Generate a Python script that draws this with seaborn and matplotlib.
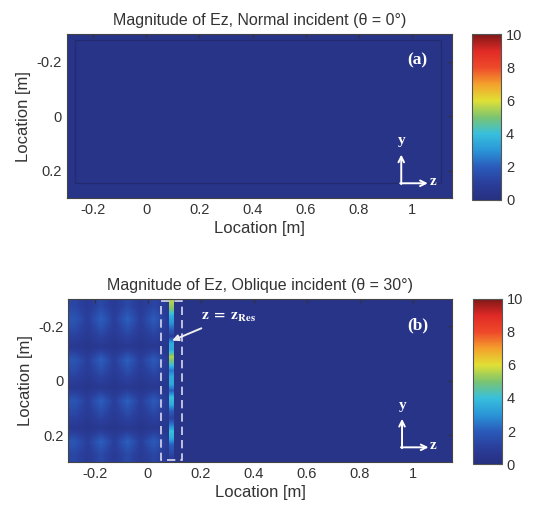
import numpy as np
import matplotlib
matplotlib.use("Agg")
import matplotlib.pyplot as plt
import seaborn as sns
from matplotlib.colors import LinearSegmentedColormap
from matplotlib.patches import Rectangle

sns.set_style("white")
plt.rcParams['font.family'] = ['Liberation Sans', 'DejaVu Sans']
plt.rcParams['mathtext.fontset'] = 'stix'

# domain [m]
z_range = [-0.3, 1.15]
y_range = [-0.3, 0.3]
z_ticks = [-0.2, 0, 0.2, 0.4, 0.6, 0.8, 1]
y_ticks = [-0.2, 0, 0.2]
cbar_ticks = [0, 2, 4, 6, 8, 10]
titles = ['Magnitude of Ez, Normal incident (θ = 0°)',
          'Magnitude of Ez, Oblique incident (θ = 30°)']
tags = ['(a)', '(b)']

# background |Ez| of each panel
background = [0.35, 0.35]

# (b) standing-wave pattern left of the resonator, 0.05 m cells
pattern_z = [-0.3, 0.1]
pattern = [
    [1.3, 0.8, 1.4, 0.8, 1.4, 0.8, 1.3, 0.7],
    [1.8, 1.0, 2.1, 1.0, 2.1, 1.0, 2.0, 0.8],
    [1.3, 0.8, 1.4, 0.8, 1.4, 0.8, 1.3, 0.7],
    [0.7, 0.5, 0.7, 0.5, 0.7, 0.5, 0.7, 0.5],
    [1.8, 1.0, 2.1, 1.0, 2.1, 1.0, 2.0, 0.8],
    [1.3, 0.8, 1.4, 0.8, 1.4, 0.8, 1.3, 0.7],
    [0.7, 0.5, 0.7, 0.5, 0.7, 0.5, 0.7, 0.5],
    [1.8, 1.0, 2.1, 1.0, 2.1, 1.0, 2.0, 0.8],
    [1.3, 0.8, 1.4, 0.8, 1.4, 0.8, 1.3, 0.7],
    [0.7, 0.5, 0.7, 0.5, 0.7, 0.5, 0.7, 0.5],
    [1.8, 1.0, 2.1, 1.0, 2.1, 1.0, 2.0, 0.8],
    [1.3, 0.8, 1.4, 0.8, 1.4, 0.8, 1.3, 0.7],
]

# (b) resonator strip at z = z_Res, every 0.025 m along y
strip_z = [0.082, 0.098]
strip = [5.5, 5.0, 3.5, 3.0, 2.0, 1.0, 3.5, 3.5, 5.5, 4.5, 2.5, 3.5,
         3.5, 2.0, 4.0, 3.5, 2.0, 1.2, 2.5, 4.0, 3.5, 2.0, 1.5, 1.0]
res_box = [0.05, 0.13]

# (a) absorbing-layer boundary (faint lines)
pml_z = [-0.27, 1.11]
pml_y = [-0.28, 0.245]

# jet-like colour scale as printed (slightly washed out), one colour per unit
scale_colors = ['#26307f', '#2a3e9b', '#2a5cbc', '#2a96d8', '#38c0dc', '#7cc470',
                '#e0e034', '#f4a02c', '#ee4a2a', '#e02a26', '#801818']
cmap = LinearSegmentedColormap.from_list('jet_print', scale_colors)
text_col = '#333333'

fig = plt.figure(figsize=(5.35, 5.09), dpi=100)
ax_pos = [[0.1247, 0.6104, 0.7196, 0.3222], [0.1277, 0.0918, 0.7178, 0.3202]]
cax_pos = [[0.8817, 0.6071, 0.0548, 0.3255], [0.8841, 0.0884, 0.0542, 0.3242]]

ext_full = [z_range[0], z_range[1], y_range[1], y_range[0]]

for k in range(2):
    ax = fig.add_axes(ax_pos[k])
    im = ax.imshow([[background[k]]], cmap=cmap, vmin=0, vmax=10,
                   extent=ext_full, aspect='auto', origin='upper')
    if k == 1:
        ax.imshow(np.array(pattern), cmap=cmap, vmin=0, vmax=10,
                  extent=[pattern_z[0], pattern_z[1], y_range[1], y_range[0]],
                  aspect='auto', origin='upper', interpolation='bilinear',
                  interpolation_stage='data')
        ax.imshow(np.array(strip).reshape(-1, 1), cmap=cmap, vmin=0, vmax=10,
                  extent=[strip_z[0], strip_z[1], y_range[1], y_range[0]],
                  aspect='auto', origin='upper', interpolation='bilinear',
                  interpolation_stage='data')
        ax.add_patch(Rectangle((res_box[0], -0.295), res_box[1] - res_box[0], 0.587,
                               fill=False, edgecolor='#d9d9ee', lw=1.2,
                               linestyle=(0, (5, 3))))
        ax.annotate(r'$\mathbf{z\ =\ z_{Res}}$', xy=(0.092, -0.148),
                    xytext=(0.2, -0.235), color='white', fontsize=11,
                    va='center', ha='left',
                    arrowprops=dict(arrowstyle='-|>', color='#eeeeee', lw=1.4,
                                    mutation_scale=9, shrinkA=2, shrinkB=0))
    else:
        ax.add_patch(Rectangle((pml_z[0], pml_y[0]), pml_z[1] - pml_z[0],
                               pml_y[1] - pml_y[0], fill=False,
                               edgecolor='#222a70', lw=0.8))

    ax.set_xlim(z_range)
    ax.set_ylim(y_range[1], y_range[0])
    ax.set_xticks(z_ticks)
    ax.set_xticklabels(['-0.2', '0', '0.2', '0.4', '0.6', '0.8', '1'])
    ax.set_yticks(y_ticks)
    ax.set_yticklabels(['-0.2', '0', '0.2'])
    ax.tick_params(direction='in', length=3, labelsize=10.5, colors=text_col,
                   top=True, right=True)
    ax.set_xlabel('Location [m]', fontsize=12, color=text_col, labelpad=3)
    ax.set_ylabel('Location [m]', fontsize=12, color=text_col, labelpad=4)
    ax.set_title(titles[k], fontsize=11.5, color=text_col, pad=7)
    for s in ax.spines.values():
        s.set_edgecolor('#444444')
        s.set_linewidth(0.8)

    # panel tag and y/z axis indicator
    ax.text(1.02, -0.205, tags[k], color='white', fontsize=12.5,
            fontweight='bold', family='Liberation Serif', ha='center', va='center')
    ax.annotate('', xy=(0.96, 0.14), xytext=(0.96, 0.248),
                arrowprops=dict(arrowstyle='->', color='white', lw=1.4,
                                shrinkA=0, shrinkB=0))
    ax.annotate('', xy=(1.06, 0.245), xytext=(0.956, 0.245),
                arrowprops=dict(arrowstyle='->', color='white', lw=1.4,
                                shrinkA=0, shrinkB=0))
    ax.text(0.963, 0.09, 'y', color='white', fontsize=11, fontweight='bold',
            family='Liberation Serif', ha='center', va='center')
    ax.text(1.078, 0.24, 'z', color='white', fontsize=11, fontweight='bold',
            family='Liberation Serif', ha='center', va='center')

    cax = fig.add_axes(cax_pos[k])
    cb = fig.colorbar(im, cax=cax, ticks=cbar_ticks)
    cb.ax.tick_params(direction='in', length=3, labelsize=10.5, colors=text_col)
    cb.outline.set_edgecolor('#555555')
    cb.outline.set_linewidth(0.8)

fig.savefig('out.png', dpi=100)
